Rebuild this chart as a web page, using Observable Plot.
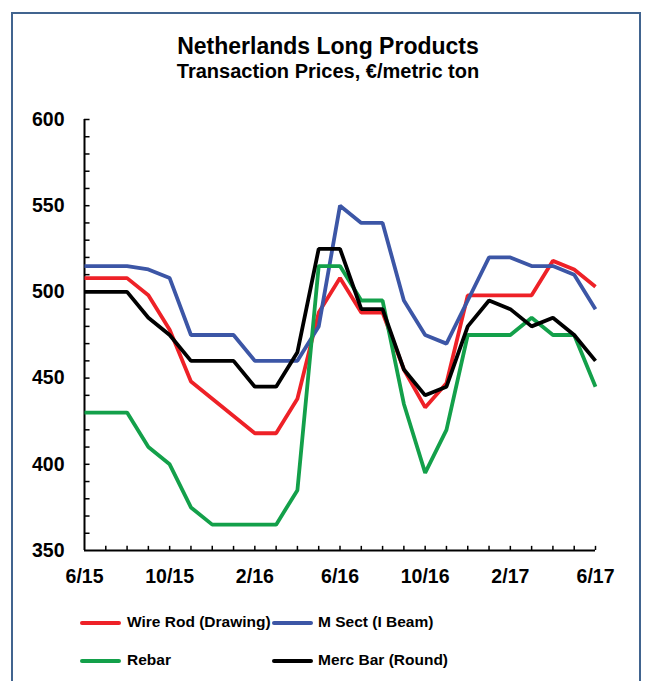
<!DOCTYPE html>
<html><head><meta charset="utf-8">
<script src="https://cdn.jsdelivr.net/npm/d3@7"></script>
<script src="https://cdn.jsdelivr.net/npm/@observablehq/plot@0.6"></script>
<style>
body{margin:0;background:#fff;font-family:"Liberation Sans",Arial,sans-serif;}
#page{position:relative;width:646px;height:681px;overflow:hidden;}
#frame{position:absolute;left:11px;top:12px;width:626px;height:700px;border:2px solid #41648f;box-sizing:content-box;}
.t{position:absolute;left:0;width:656px;text-align:center;font-weight:bold;color:#000;line-height:0.9;}
#plot{position:absolute;left:0;top:100px;}
.leg{position:absolute;font-weight:bold;font-size:15.5px;white-space:nowrap;line-height:1.15;}
.sw{position:absolute;height:4px;border-radius:2px;}
</style></head>
<body><div id="page"><div id="frame"></div>
<div class="t" style="top:35.5px;font-size:23px;">Netherlands Long Products</div>
<div class="t" style="top:62px;font-size:20px;">Transaction Prices, €/metric ton</div>
<div id="plot"></div>
<div id="legend"></div>
</div>
<script>
const months = ["6/15","7/15","8/15","9/15","10/15","11/15","12/15","1/16","2/16","3/16","4/16","5/16","6/16","7/16","8/16","9/16","10/16","11/16","12/16","1/17","2/17","3/17","4/17","5/17","6/17"];
const xTickLabels = ["6/15","10/15","2/16","6/16","10/16","2/17","6/17"];
const yTicks = [350,400,450,500,550,600];
const wireRod = [508,508,508,498,478,448,438,428,418,418,438,488,508,488,488,455,433,447,498,498,498,498,518,513,503];
const mSect   = [515,515,515,513,508,475,475,475,460,460,460,480,550,540,540,495,475,470,495,520,520,515,515,510,490];
const rebar   = [430,430,430,410,400,375,365,365,365,365,385,515,515,495,495,435,395,420,475,475,475,485,475,475,445];
const mercBar = [500,500,500,485,475,460,460,460,445,445,465,525,525,490,490,455,440,445,480,495,490,480,485,475,460];
const seriesNames = ["Wire Rod (Drawing)","M Sect (I Beam)","Rebar","Merc Bar (Round)"];
const seriesColors = ["#ee2127","#3c56a6","#13a04a","#000000"];
const seriesValues = [wireRod, mSect, rebar, mercBar];

const rows = [];
seriesValues.forEach((vals, s) => vals.forEach((v, i) => rows.push({series: seriesNames[s], i, v})));
const idx = months.map((m, i) => i);
const majorIdx = xTickLabels.map(l => months.indexOf(l));
const yMinor = d3.range(360, 600, 10);

const chart = Plot.plot({
  width: 646, height: 490,
  marginLeft: 84, marginRight: 51, marginTop: 19, marginBottom: 40,
  style: {fontFamily: '"Liberation Sans", Arial, sans-serif', fontWeight: "bold", fontSize: "19.5px", color: "#000", background: "transparent"},
  x: {domain: [0, months.length - 1]},
  y: {domain: [350, 600]},
  color: {domain: seriesNames, range: seriesColors},
  marks: [
    Plot.axisY({ticks: yTicks, tickSize: 0, tickPadding: 20, label: null}),
    Plot.axisX({ticks: majorIdx, tickFormat: i => months[i], tickSize: 0, tickPadding: 19, label: null}),
    Plot.ruleY(yMinor, {y: d => d, x1: 0, x2: 0.26, stroke: "#000", strokeWidth: 1.5}),
    Plot.ruleY([600], {x1: 0, x2: 0.26, stroke: "#000", strokeWidth: 1.5}),
    Plot.ruleX(idx.slice(1), {x: d => d, y1: 350, y2: 352.4, stroke: "#000", strokeWidth: 1.5}),
    Plot.ruleX([0], {y1: 350, y2: 600, stroke: "#000", strokeWidth: 2}),
    Plot.ruleY([350], {x1: 0, x2: months.length - 1, stroke: "#000", strokeWidth: 2}),
    Plot.lineY(rows, {x: "i", y: "v", z: "series", stroke: "series", strokeWidth: 3.8, strokeLinejoin: "miter", strokeLinecap: "butt"})
  ]
});
document.getElementById("plot").appendChild(chart);

const legendPos = [{sx:80,tx:127,y:623},{sx:272,tx:318,y:623},{sx:80,tx:127,y:661},{sx:272,tx:318,y:661}];
const leg = document.getElementById("legend");
seriesNames.forEach((n, s) => {
  const p = legendPos[s];
  const sw = document.createElement("div");
  sw.className = "sw"; sw.style.left = p.sx + "px"; sw.style.top = (p.y - 2) + "px";
  sw.style.width = "41px"; sw.style.background = seriesColors[s];
  leg.appendChild(sw);
  const t = document.createElement("div");
  t.className = "leg"; t.style.left = p.tx + "px"; t.style.top = (p.y - 10) + "px";
  t.textContent = n;
  leg.appendChild(t);
});
</script></body></html>
